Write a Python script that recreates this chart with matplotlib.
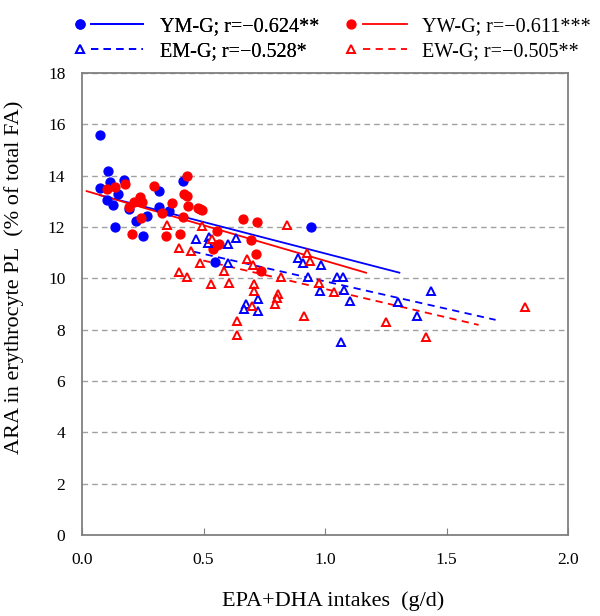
import numpy as np
import matplotlib
matplotlib.use('Agg')
import matplotlib.pyplot as plt
from matplotlib.lines import Line2D
from matplotlib.legend_handler import HandlerTuple

plt.rcParams['font.family'] = ['Liberation Serif', 'DejaVu Serif']

# YM-G (young men), filled blue circles
ym_x = [0.074, 0.106, 0.115, 0.075, 0.174, 0.149, 0.104, 0.126, 0.136, 0.192,
        0.224, 0.266, 0.251, 0.315, 0.317, 0.357, 0.414, 0.549, 0.941]
ym_y = [15.6, 14.18, 13.76, 13.53, 13.82, 13.27, 13.04, 12.86, 11.99, 12.69,
        12.23, 12.43, 11.65, 13.39, 12.77, 12.62, 13.8, 10.64, 11.99]

# YW-G (young women), filled red circles
yw_x = [0.101, 0.136, 0.177, 0.193, 0.214, 0.239, 0.245, 0.243, 0.207, 0.295,
        0.328, 0.369, 0.344, 0.403, 0.417, 0.431, 0.42, 0.43, 0.437, 0.476,
        0.486, 0.495, 0.554, 0.54, 0.555, 0.565, 0.661, 0.719, 0.694, 0.716, 0.735]
yw_y = [13.48, 13.54, 13.66, 12.79, 12.99, 13.15, 12.96, 12.36, 11.73, 13.6,
        12.55, 12.92, 11.65, 11.71, 12.40, 14.0, 13.3, 13.2, 12.82, 12.75,
        12.7, 12.65, 11.84, 11.15, 11.3, 11.35, 12.3, 12.18, 11.49, 10.95, 10.28]

# EM-G (elderly men), open blue triangles
em_x = [0.468, 0.523, 0.517, 0.602, 0.632, 0.6, 0.726, 0.675, 0.668, 0.726,
        0.888, 0.911, 0.982, 0.931, 1.048, 1.072, 0.979, 1.078, 1.103, 1.064,
        1.299, 1.379, 1.435]
em_y = [11.53, 11.6, 11.37, 11.34, 11.56, 10.61, 9.19, 8.99, 8.79, 8.73,
        10.8, 10.58, 10.5, 10.04, 10.06, 10.06, 9.52, 9.54, 9.12, 7.53,
        9.08, 8.54, 9.52]

# EW-G (elderly women), open red triangles
ew_x = [0.351, 0.495, 0.845, 0.398, 0.449, 0.533, 0.486, 0.586, 0.678, 0.704,
        0.4, 0.434, 0.53, 0.606, 0.709, 0.708, 0.701, 0.639, 0.637, 0.819,
        0.808, 0.801, 0.794, 0.924, 0.938, 0.977, 1.038, 0.914, 1.25, 1.417, 1.823]
ew_y = [12.08, 12.04, 12.08, 11.17, 11.08, 11.53, 10.6, 10.3, 10.74, 10.52,
        10.24, 10.04, 9.77, 9.83, 9.78, 9.5, 8.93, 8.35, 7.79, 10.06,
        9.39, 9.22, 8.99, 11.0, 10.69, 9.8, 9.48, 8.54, 8.3, 7.71, 8.87]

# regression lines: slope, intercept, x range
ym_fit = (-2.45, 13.42, 0.074, 1.306)
yw_fit = (-2.765, 13.45, 0.019, 1.169)
em_fit = (-2.138, 12.02, 0.458, 1.702)
ew_fit = (-2.215, 11.80, 0.499, 1.632)

labels_left = ['YM-G; r=\u22120.624**', 'EM-G; r=\u22120.528*']
labels_right = ['YW-G; r=\u22120.611***', 'EW-G; r=\u22120.505**']

blue = '#0000FF'
red = '#FF0000'

fig = plt.figure(figsize=(6, 6.16), dpi=100)
ax = fig.add_axes([0.1367, 0.1315, 0.81, 0.75])


def fit_line(fit, color, ls):
    k, b, x0, x1 = fit
    xs = np.array([x0, x1])
    return ax.plot(xs, k * xs + b, color=color, ls=ls, lw=1.3,
                   dashes=(4, 3) if ls == '--' else (None, None))[0]


ax.plot(ym_x, ym_y, 'o', color=blue, ms=6.4, zorder=3)
ax.plot(yw_x, yw_y, 'o', color=red, ms=6.4, zorder=3)
ax.plot(em_x, em_y, '^', mfc='white', mec=blue, mew=1.4, ms=5.5, ls='none', zorder=3)
ax.plot(ew_x, ew_y, '^', mfc='white', mec=red, mew=1.4, ms=5.5, ls='none', zorder=3)

fit_line(ym_fit, blue, '-')
fit_line(yw_fit, red, '-')
fit_line(em_fit, blue, '--')
fit_line(ew_fit, red, '--')

ax.set_xlim(0, 2.0)
ax.set_ylim(0, 18)
ax.set_xticks(np.arange(0, 2.01, 0.5))
ax.set_yticks(np.arange(0, 19, 2))
ax.set_xticklabels(['%.1f' % v for v in np.arange(0, 2.01, 0.5)])
ax.yaxis.grid(True, color='#A0A0A0', lw=1.0, dashes=(4, 3))
ax.set_axisbelow(True)
for s in ax.spines.values():
    s.set_color('#808080')
    s.set_linewidth(1.3)
ax.tick_params(axis='x', direction='in', length=5, color='#808080', labelsize=12.5, pad=12)
ax.tick_params(axis='y', length=0, labelsize=12.5, pad=12)

ax.set_xlabel('EPA+DHA intakes\u2002(g/d)', fontsize=16)
ax.set_ylabel('ARA in erythrocyte PL\u2002(% of total FA)', fontsize=16)
ax.xaxis.set_label_coords(0.516, -0.122)
ax.yaxis.set_label_coords(-0.12, 0.558)


# legend: marker on the left, line on the right
def mk(marker, color, filled):
    if filled:
        return Line2D([], [], marker=marker, color=color, ls='none', ms=6.4)
    return Line2D([], [], marker=marker, mfc='white', mec=color, mew=1.4, ms=5.5, ls='none')


def ln(color, ls):
    if ls == '--':
        return Line2D([], [], color=color, lw=1.3, dashes=(4, 3))
    return Line2D([], [], color=color, lw=1.3)


left_handles = [(mk('o', blue, True), ln(blue, '-')),
                (mk('^', blue, False), ln(blue, '--'))]
right_handles = [(mk('o', red, True), ln(red, '-')),
                 (mk('^', red, False), ln(red, '--'))]

leg1 = fig.legend(left_handles, labels_left, frameon=False, fontsize=14.5,
                  handler_map={tuple: HandlerTuple(ndivide=None, pad=-0.745)},
                  handlelength=4.43, handletextpad=0.84, labelspacing=0.3,
                  loc='upper left', bbox_to_anchor=(54 / 600, 1 - 17 / 616),
                  borderaxespad=0, borderpad=0)
fig.legend(right_handles, labels_right, frameon=False, fontsize=14.5,
           handler_map={tuple: HandlerTuple(ndivide=None, pad=-0.5)},
           handlelength=3.88, handletextpad=0.75, labelspacing=0.3,
           loc='upper left', bbox_to_anchor=(329 / 600, 1 - 17 / 616),
           borderaxespad=0, borderpad=0)
fig.add_artist(leg1)

fig.savefig('out.png', dpi=100)
